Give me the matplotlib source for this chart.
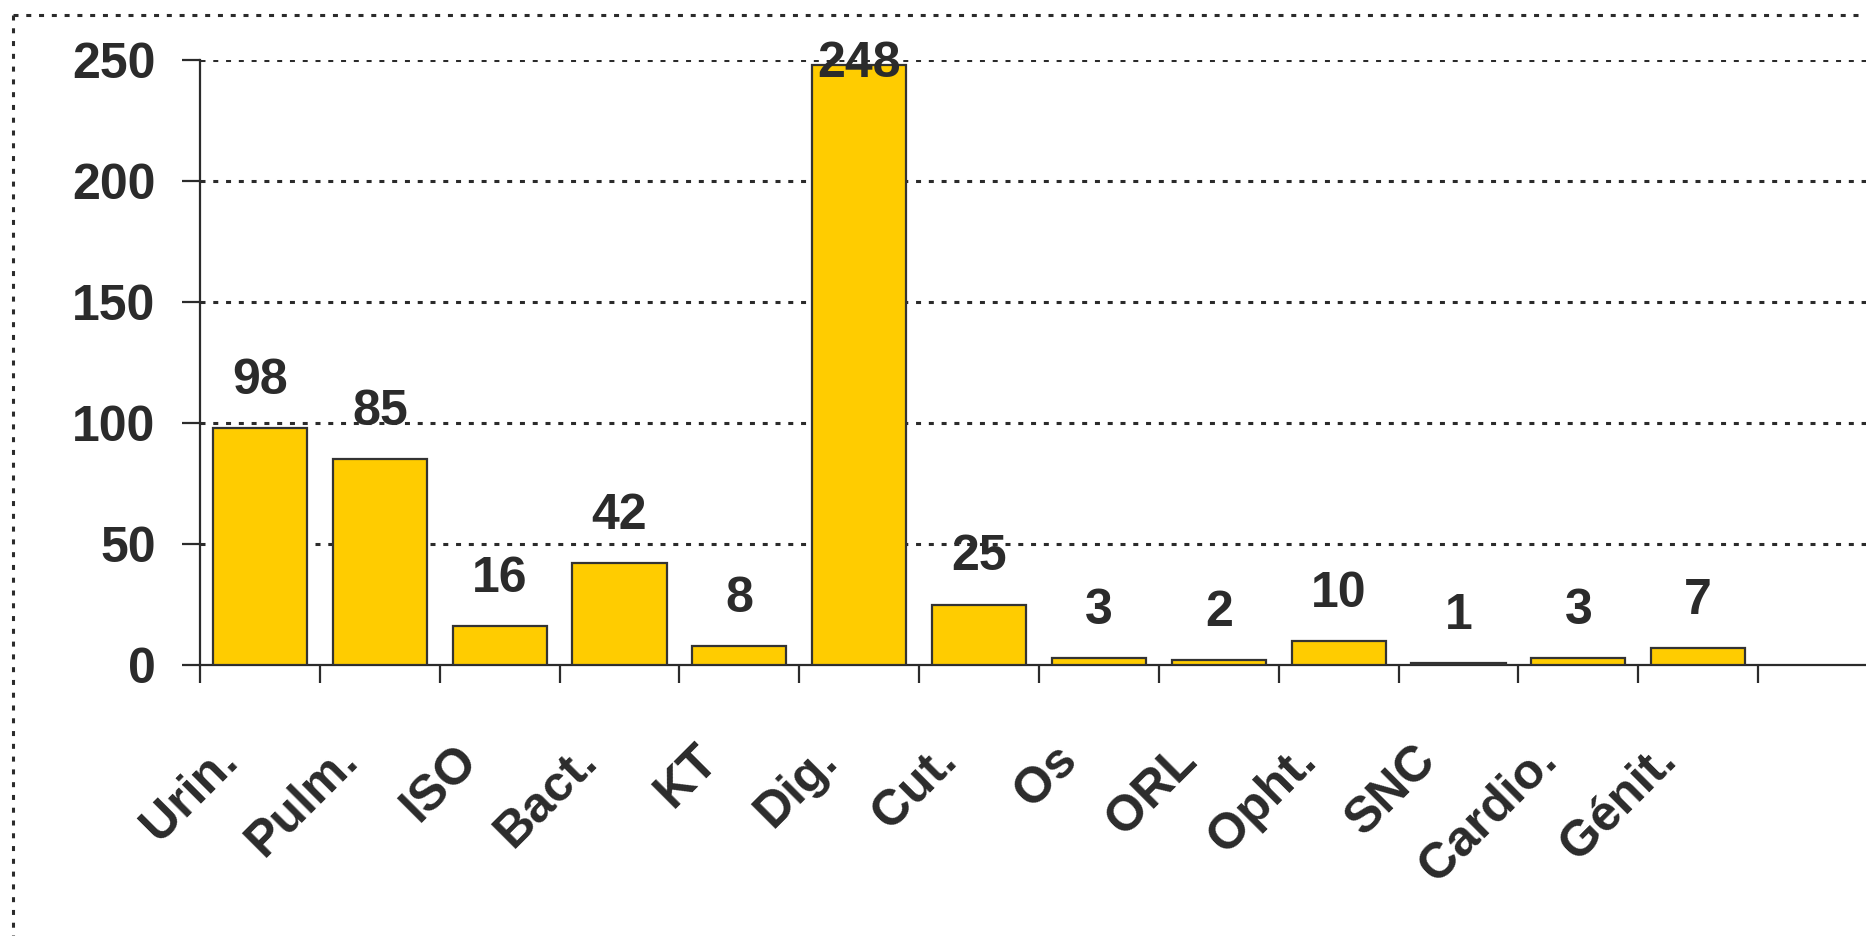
import matplotlib
matplotlib.use("Agg")
import matplotlib.pyplot as plt
from matplotlib.lines import Line2D
from matplotlib.transforms import ScaledTranslation

plt.rcParams['font.family'] = ['Liberation Sans', 'DejaVu Sans']
plt.rcParams['font.weight'] = 'bold'
plt.rcParams['lines.scale_dashes'] = False

categories = ['Urin.', 'Pulm.', 'ISO', 'Bact.', 'KT', 'Dig.', 'Cut.', 'Os',
              'ORL', 'Opht.', 'SNC', 'Cardio.', 'Génit.']
counts = [98, 85, 16, 42, 8, 248, 25, 3, 2, 10, 1, 3, 7]
y_ticks = [0, 50, 100, 150, 200, 250]

dark = '#2b2b2b'
bar_col = '#FFCC00'
dots = (0, (3.6, 5.6))

fig = plt.figure(figsize=(18.66, 9.36), dpi=100)
ax = fig.add_axes([200 / 1866, 1 - 665 / 936, 1 - 200 / 1866, 605 / 936])

x = [i + 0.5 for i in range(len(categories))]
ax.bar(x, counts, width=0.785, color=bar_col, edgecolor='#333333', linewidth=1.6, zorder=3)

ax.set_xlim(0, 13.9)
ax.set_ylim(0, 250)

# grid
for v in y_ticks[1:]:
    ax.axhline(v, color=dark, linewidth=2.2, linestyle=dots, zorder=1)

# labels above bars (excel clamps the tall one)
for xi, v in zip(x, counts):
    ax.annotate(str(v), (xi, min(v, 229)), xytext=(0, 24.5), textcoords='offset points',
                ha='center', va='baseline', fontsize=36, fontweight='bold', color=dark,
                zorder=4, annotation_clip=False)

for s in ['top', 'right']:
    ax.spines[s].set_visible(False)
for s in ['left', 'bottom']:
    ax.spines[s].set_color(dark)
    ax.spines[s].set_linewidth(1.6)

ax.set_yticks(y_ticks)
ax.set_yticklabels([str(t) for t in y_ticks])
ax.tick_params(axis='y', length=13, width=1.6, color=dark, pad=19, labelsize=36, labelcolor=dark)

ax.set_xticks(range(14))
ax.set_xticklabels([])
ax.tick_params(axis='x', which='major', length=13, width=1.6, color=dark)
ax.set_xticks(x, minor=True)
ax.set_xticklabels(categories, minor=True, rotation=45, ha='right', va='baseline',
                   rotation_mode='anchor', fontsize=36, fontweight='bold', color=dark)
ax.tick_params(axis='x', which='minor', length=0, pad=70)
shift = ScaledTranslation(-0.2, 0, fig.dpi_scale_trans)
for lab in ax.get_xticklabels(minor=True):
    lab.set_transform(lab.get_transform() + shift)

# dotted chart border
fig.add_artist(Line2D([13 / 1866, 1], [1 - 15 / 936, 1 - 15 / 936], color=dark,
                      linewidth=2.2, linestyle=dots, transform=fig.transFigure))
fig.add_artist(Line2D([13 / 1866, 13 / 1866], [1 - 15 / 936, 0], color=dark,
                      linewidth=2.2, linestyle=dots, transform=fig.transFigure))

fig.savefig('out.png', dpi=100)
